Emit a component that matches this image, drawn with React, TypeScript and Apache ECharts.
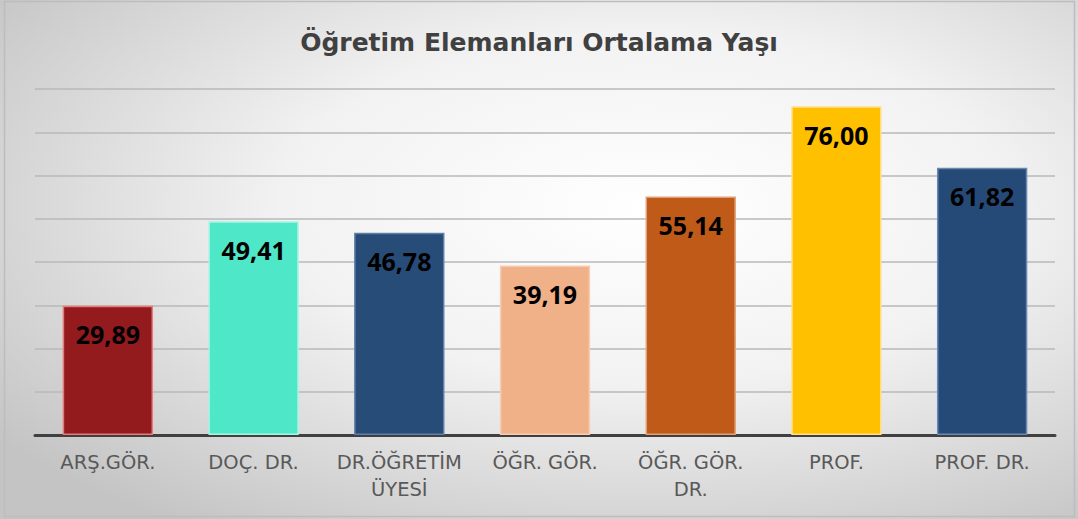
import React, { useEffect, useRef } from "react";
import * as echarts from "echarts";

const categories = ["ARŞ.GÖR.", "DOÇ. DR.", "DR.ÖĞRETİM\nÜYESİ", "ÖĞR. GÖR.", "ÖĞR. GÖR.\nDR.", "PROF.", "PROF. DR."];
const values = [29.89, 49.41, 46.78, 39.19, 55.14, 76.0, 61.82];
const barColors = ["#931A1D", "#4EE8C8", "#284C78", "#F0B189", "#C05A18", "#FFC000", "#264A77"];
const borderColors = ["#E87A7A", "#A8F3E3", "#5F7FA8", "#F6CDB2", "#E0A078", "#FFE08A", "#6A88B0"];
const title = "Öğretim Elemanları Ortalama Yaşı";

export default function App() {
  const ref = useRef<HTMLDivElement>(null);
  useEffect(() => {
    const chart = echarts.init(ref.current!, undefined, { renderer: "svg" });
    chart.setOption({
      animation: false,
      backgroundColor: {
        type: "radial",
        x: 0.6,
        y: 0.4,
        r: 0.75,
        colorStops: [
          { offset: 0, color: "#ffffff" },
          { offset: 0.45, color: "#f2f2f2" },
          { offset: 1, color: "#c4c4c4" },
        ],
      },
      title: {
        text: title,
        left: "center",
        top: 25,
        textStyle: {
          fontFamily: "'DejaVu Sans', sans-serif",
          fontWeight: "bold",
          fontSize: 25,
          color: "#404040",
        },
      },
      graphic: [
        {
          type: "rect",
          shape: { x: 4.5, y: 1.5, width: 1070, height: 515 },
          style: { fill: "none", stroke: "#bdbdbd", lineWidth: 1.5 },
        },
      ],
      grid: { left: 35, right: 23, top: 89, bottom: 84, containLabel: false },
      xAxis: {
        type: "category",
        data: categories,
        axisLine: { show: true, lineStyle: { color: "#404040", width: 3 } },
        axisTick: { show: false },
        axisLabel: {
          color: "#595959",
          fontFamily: "'DejaVu Sans', sans-serif",
          fontSize: 19.5,
          lineHeight: 27,
          margin: 14,
          interval: 0,
        },
      },
      yAxis: {
        type: "value",
        min: 0,
        max: 80,
        interval: 10,
        axisLabel: { show: false },
        axisLine: { show: false },
        axisTick: { show: false },
        splitLine: { lineStyle: { color: "#b8b8b8", width: 1.5 } },
      },
      series: [
        {
          type: "bar",
          barWidth: "62%",
          data: values.map((v, i) => ({
            value: v,
            itemStyle: { color: barColors[i], borderColor: borderColors[i], borderWidth: 1.5 },
          })),
          label: {
            show: true,
            position: "insideTop",
            distance: 16,
            formatter: (p: any) => p.value.toFixed(2).replace(".", ","),
            color: "#000000",
            fontFamily: "'Open Sans', sans-serif",
            fontWeight: "bold",
            fontSize: 25,
          },
        },
      ],
    });
    return () => chart.dispose();
  }, []);
  return <div ref={ref} style={{ position: "absolute", left: 0, top: 0, width: 1078, height: 519 }} />;
}
